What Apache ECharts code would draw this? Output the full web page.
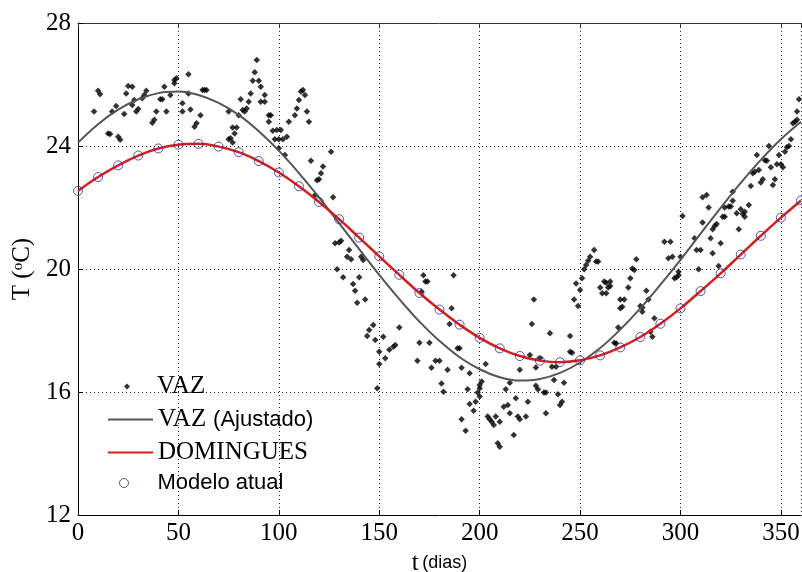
<!DOCTYPE html>
<html>
<head>
<meta charset="utf-8">
<script src="https://cdn.jsdelivr.net/npm/echarts@6/dist/echarts.min.js"></script>
<style>
  html, body { margin: 0; padding: 0; background: #fff; }
  #chart { width: 802px; height: 572px; }
</style>
</head>
<body>
<div id="chart"></div>
<script>
// dias do modelo (a cada 10 dias)
const dias = [0, 10, 20, 30, 40, 50, 60, 70, 80, 90, 100, 110, 120, 130, 140, 150, 160, 170, 180,
  190, 200, 210, 220, 230, 240, 250, 260, 270, 280, 290, 300, 310, 320, 330, 340, 350, 360]

// VAZ (Ajustado) - curva cinza
const vazAjustado = [24.11, 24.71, 25.18, 25.52, 25.72, 25.77, 25.66, 25.40, 25.01, 24.48, 23.85, 23.12,
  22.33, 21.49, 20.65, 19.81, 19.02, 18.29, 17.66, 17.13, 16.74, 16.48, 16.37, 16.42, 16.62, 16.96,
  17.43, 18.03, 18.72, 19.49, 20.30, 21.15, 21.99, 22.80, 23.55, 24.22, 24.79]

// DOMINGUES - curva vermelha
const domingues = [22.54, 22.99, 23.37, 23.69, 23.92, 24.04, 24.07, 23.98, 23.80, 23.51, 23.14, 22.69,
  22.18, 21.62, 21.02, 20.41, 19.81, 19.22, 18.68, 18.19, 17.76, 17.42, 17.17, 17.02, 16.97, 17.03,
  17.19, 17.45, 17.79, 18.22, 18.72, 19.28, 19.86, 20.47, 21.08, 21.67, 22.23]

// Modelo atual - circulos
const modeloAtual = [22.54, 22.99, 23.37, 23.69, 23.92, 24.04, 24.07, 23.98, 23.80, 23.51, 23.14, 22.69,
  22.18, 21.62, 21.02, 20.41, 19.81, 19.22, 18.68, 18.19, 17.76, 17.42, 17.17, 17.02, 16.97, 17.03,
  17.19, 17.45, 17.79, 18.22, 18.72, 19.28, 19.86, 20.47, 21.08, 21.67, 22.23]

// VAZ - medidas diarias [dia, T]
const vaz = [
  [8,25.12],[10,25.80],[11,25.68],[15,24.41],[16,24.39],[17,25.12],[19,25.30],[20,24.30],[21,24.20],
  [23,25.04],[24,25.71],[25,25.95],[27,25.93],[27,25.33],[28,25.50],[29,25.12],[30,25.20],[32,25.55],
  [33,25.66],[34,25.80],[37,24.76],[38,24.85],[39,25.12],[41,25.52],[42,25.52],[43,25.93],[44,25.12],
  [46,25.66],[48,26.04],[48,26.15],[49,26.20],[52,25.39],[52,25.12],[55,26.33],[55,25.71],[56,25.19],
  [58,24.63],[59,24.74],
  [61,25.00],[62,25.82],[63,25.82],[64,25.82],[75,24.22],[75,25.12],[76,24.25],[77,24.11],[77,24.60],
  [79,24.60],[78,24.41],[80,25.00],[82,25.17],[81,25.52],[83,25.12],[84,25.22],[85,25.44],[86,25.71],
  [87,26.12],[88,26.40],[89,26.80],[90,26.12],[91,25.93],[91,25.44],[93,25.44],[93,25.66],[95,25.00],
  [96,25.00],[95,24.79],[97,24.50],[99,24.52],[101,24.52],[98,24.22],[100,24.22],[102,24.22],[104,24.30],
  [100,23.93],[103,23.71],[105,24.79],[108,25.00],[109,25.22],[110,25.50],[111,25.77],[112,25.82],
  [113,25.66],[114,25.12],[115,24.79],[116,23.52],[118,22.40],[119,22.89],[121,23.11],[122,23.33],
  [120,22.92],[126,23.81],[127,22.33],[128,20.84],[130,20.86],[131,20.92],[135,20.62],[134,20.40],
  [136,20.32],[141,20.40],[142,20.29],[129,19.99],[132,19.73],[137,19.51],[140,19.73],[138,19.29],
  [139,18.90],[143,19.01],[147,18.18],[145,18.02],[144,17.82],[148,17.69],[152,17.80],[150,17.31],
  [150,16.91],[149,16.12],[153,17.10],[155,17.37],[157,17.47],[158,17.53],[160,18.10],[170,17.60],
  [169,17.02],[175,17.60],[172,19.80],[173,19.59],[174,19.59],[171,19.26],[178,17.02],[180,17.02],
  [176,16.79],[181,16.28],[182,16.01],[184,16.72],[186,18.72],[187,19.80],[185,18.21],[189,17.42],
  [190,17.42],[191,16.79],[195,16.61],[194,16.09],[191,15.11],[193,14.74],
  [199,15.98],[200,16.12],[200,16.23],[201,16.34],[200,15.85],[198,15.68],[195,15.61],[197,15.39],
  [203,16.91],[204,15.20],[205,15.11],[206,15.03],[208,15.20],[210,15.03],[207,14.93],[209,14.33],
  [210,14.22],[212,15.52],[214,15.58],[213,16.09],[215,16.30],[215,15.31],[217,14.60],[218,15.80],
  [219,15.20],[220,15.11],[223,15.20],[220,16.72],[224,15.68],[225,17.20],[226,18.21],[227,19.01],
  [228,16.20],[229,16.09],[230,17.10],[232,15.98],[233,15.98],[233,15.31],[235,17.91],[236,16.82],
  [238,16.82],[237,16.39],[240,15.58],[241,15.68],[239,15.93],[242,16.30],[228,16.80],
  [245,17.31],[245,17.82],[246,17.28],[247,19.01],[249,18.80],[248,19.53],[250,19.32],[251,19.70],
  [252,19.99],[253,20.13],[254,20.27],[255,20.40],[257,20.62],[258,20.24],[259,20.24],[260,19.40],
  [261,19.21],[263,19.21],[262,19.59],[263,19.55],[265,19.59],[265,19.45],[264,19.40],[270,19.01],
  [272,19.01],[271,18.77],[270,18.72],[269,18.10],[274,19.40],[275,19.70],[276,20.02],[277,19.97],
  [278,20.32],[267,17.60],[268,17.58],[280,18.80],[281,18.61],[281,18.75],[283,19.29],[284,19.01],
  [285,17.96],[286,17.80],[287,18.40],[292,20.89],[294,20.35],[295,20.89],[296,20.40],[297,19.70],
  [298,19.73],[299,19.80],[299,19.91],[300,20.40],[301,21.72],
  [309,19.99],[308,20.62],[310,20.62],[307,21.00],[311,21.51],[311,22.33],[313,22.41],[314,22.00],
  [315,21.00],[316,20.51],[316,21.29],[317,21.40],[318,21.46],[319,20.10],[320,20.84],[321,21.70],
  [322,21.70],[322,22.00],[324,22.03],[325,22.03],[326,22.22],[326,22.51],[328,21.81],[329,21.29],
  [330,21.94],[331,21.79],[332,21.86],[332,21.70],[334,22.08],[335,22.70],[336,23.11],[337,23.16],
  [338,23.71],[339,23.22],[340,22.81],[341,22.92],[342,23.54],[343,23.52],[344,24.00],[345,23.31],
  [347,22.92],[346,22.73],[348,23.41],[349,23.71],[350,23.41],[351,23.31],[352,23.81],[353,23.96],
  [354,24.00],[355,24.22],[356,24.74],[357,24.79],[358,24.85],[358,25.12],[359,25.52]
]

const serif = 'Liberation Serif'
const sans = 'Liberation Sans'

const chart = echarts.init(document.getElementById('chart'))

const legendText = {
  fontSize: 25,
  color: '#000',
  rich: {
    s: { fontFamily: serif, fontSize: 25, color: '#000' },
    a: { fontFamily: sans, fontSize: 22, color: '#000' }
  }
}

chart.setOption({
  animation: false,
  backgroundColor: '#fff',
  grid: { left: 78, top: 23, right: 1, bottom: 57, outerBoundsMode: 'none' },
  xAxis: [
    {
      type: 'value',
      min: 0,
      max: 360,
      interval: 50,
      name: '{s|t} {a|(dias)}',
      nameLocation: 'middle',
      nameGap: 31,
      nameTextStyle: {
        rich: {
          s: { fontFamily: serif, fontSize: 25, color: '#000' },
          a: { fontFamily: sans, fontSize: 18, color: '#000' }
        }
      },
      axisLine: { show: true, lineStyle: { color: '#000', width: 1 } },
      axisTick: { inside: true, length: 5, lineStyle: { color: '#000' } },
      axisLabel: { showMaxLabel: false, margin: 6, fontFamily: serif, fontSize: 25, color: '#000' },
      splitLine: { show: true, lineStyle: { color: '#222', type: [1, 3], width: 1 } }
    },
    {
      type: 'value',
      position: 'top',
      min: 0,
      max: 360,
      interval: 50,
      axisLine: { show: true, onZero: false, lineStyle: { color: '#333', width: 1 } },
      axisTick: { inside: true, length: 5, lineStyle: { color: '#333' } },
      axisLabel: { show: false },
      splitLine: { show: false }
    }
  ],
  yAxis: {
    type: 'value',
    min: 12,
    max: 28,
    interval: 4,
    name: '{s|T (}{u|o}{s|C)}',
    nameLocation: 'middle',
    nameRotate: 90,
    nameGap: 38,
    nameTextStyle: {
      rich: {
        s: { fontFamily: serif, fontSize: 25, color: '#000' },
        u: { fontFamily: serif, fontSize: 15, color: '#000', verticalAlign: 'top', padding: [0, 0, 8, 0] }
      }
    },
    axisLine: { show: true, lineStyle: { color: '#000', width: 1 } },
    axisTick: { show: true, inside: true, length: 5, lineStyle: { color: '#000' } },
    axisLabel: { margin: 7, fontFamily: serif, fontSize: 25, color: '#000' },
    splitLine: { show: true, lineStyle: { color: '#222', type: [1, 3], width: 1 } }
  },
  legend: [
    {
      left: 124, top: 374, padding: 0,
      itemWidth: 6, itemHeight: 6,
      data: [{ name: 'VAZ', icon: 'diamond', itemStyle: { color: '#000' } }],
      formatter: () => '{s|VAZ}',
      textStyle: Object.assign({ padding: [0, 0, 0, 22] }, legendText)
    },
    {
      left: 107, top: 407, padding: 0,
      itemWidth: 45, itemHeight: 14,
      itemStyle: { opacity: 0 },
      data: ['VAZ (Ajustado)'],
      formatter: () => '{s|VAZ} {a|(Ajustado)}',
      textStyle: legendText
    },
    {
      left: 107, top: 440, padding: 0,
      itemWidth: 45, itemHeight: 14,
      itemStyle: { opacity: 0 },
      data: ['DOMINGUES'],
      formatter: () => '{s|DOMINGUES}',
      textStyle: legendText
    },
    {
      left: 119, top: 472, padding: 0,
      itemWidth: 9, itemHeight: 9,
      data: [{ name: 'Modelo atual', icon: 'circle',
        itemStyle: { color: 'rgba(0,0,0,0)', borderColor: '#2b2b9a', borderWidth: 1 } }],
      formatter: () => '{a|Modelo atual}',
      textStyle: Object.assign({ padding: [0, 0, 0, 24] }, legendText)
    }
  ],
  series: [
    {
      name: 'VAZ',
      type: 'scatter',
      data: vaz,
      symbol: 'diamond',
      symbolSize: 6.5,
      itemStyle: { color: '#000' },
      z: 2
    },
    {
      name: 'VAZ (Ajustado)',
      type: 'line',
      data: dias.map((d, i) => [d, vazAjustado[i]]),
      symbol: 'none',
      smooth: 0.4,
      lineStyle: { color: '#555555', width: 2 },
      itemStyle: { color: '#555555' },
      z: 3
    },
    {
      name: 'DOMINGUES',
      type: 'line',
      data: dias.map((d, i) => [d, domingues[i]]),
      symbol: 'none',
      smooth: 0.4,
      lineStyle: { color: '#d41f1f', width: 2.5 },
      itemStyle: { color: '#d41f1f' },
      z: 4
    },
    {
      name: 'Modelo atual',
      type: 'scatter',
      data: dias.map((d, i) => [d, modeloAtual[i]]),
      symbol: 'circle',
      symbolSize: 9,
      itemStyle: { color: 'rgba(0,0,0,0)', borderColor: '#2b2b9a', borderWidth: 1 },
      z: 5
    }
  ]
})
</script>
</body>
</html>
